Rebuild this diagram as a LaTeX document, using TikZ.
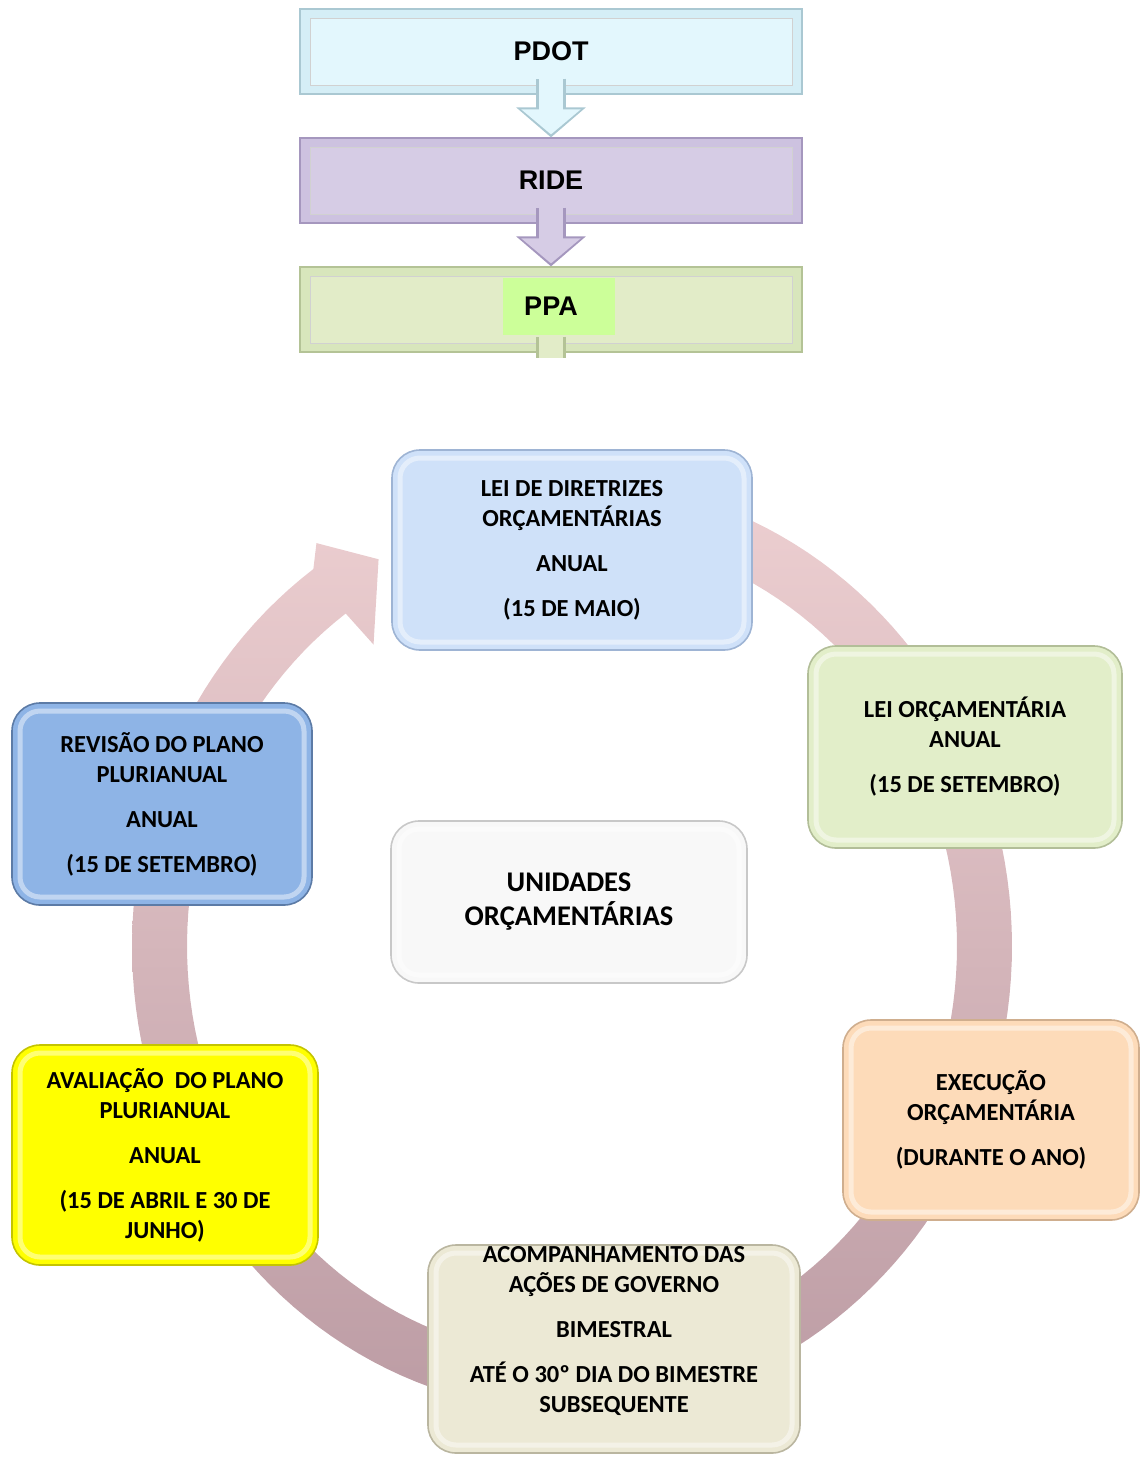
\documentclass[tikz,border=0pt]{standalone}
\usepackage{fontspec}
\setmainfont{Carlito}
\newfontfamily\arialbf{Liberation Sans}
\usetikzlibrary{arrows.meta}

\definecolor{pdotface}{RGB}{227,247,253}
\definecolor{pdotframe}{RGB}{213,238,246}
\definecolor{pdotedge}{RGB}{170,200,210}
\definecolor{rideface}{RGB}{214,204,229}
\definecolor{rideframe}{RGB}{205,194,224}
\definecolor{rideedge}{RGB}{165,151,190}
\definecolor{ppaface}{RGB}{226,236,200}
\definecolor{ppaframe}{RGB}{216,230,188}
\definecolor{ppaedge}{RGB}{180,195,150}
\definecolor{ppamark}{RGB}{204,255,153}
\definecolor{ringtop}{RGB}{236,206,208}
\definecolor{ringbot}{RGB}{188,156,164}
\definecolor{ldoface}{RGB}{207,225,249}
\definecolor{ldoedge}{RGB}{158,180,212}
\definecolor{loaface}{RGB}{226,238,201}
\definecolor{loaedge}{RGB}{178,190,152}
\definecolor{execface}{RGB}{253,219,185}
\definecolor{execedge}{RGB}{207,174,142}
\definecolor{acface}{RGB}{236,233,213}
\definecolor{acedge}{RGB}{186,182,160}
\definecolor{avalface}{RGB}{255,255,0}
\definecolor{avaledge}{RGB}{196,196,0}
\definecolor{revface}{RGB}{142,180,230}
\definecolor{revedge}{RGB}{92,123,166}
\definecolor{unidface}{RGB}{248,248,248}
\definecolor{unidedge}{RGB}{200,200,200}

\newcommand\toplbl{\arialbf\bfseries\fontsize{13.5}{16}\selectfont}
\newcommand\boxlbl{\bfseries\fontsize{12.25}{15}\selectfont}

\begin{document}
\begin{tikzpicture}[x=0.5pt,y=-0.5pt,node distance={64.5pt}]
	\tikzstyle{tb}=[rectangle, minimum width=251pt, minimum height=42.5pt, inner sep=0pt, line width=0.6pt, font=\toplbl]
	\tikzstyle{face}=[path picture={\filldraw[fill=#1, draw=black!18, line width=0.4pt] ([shift={(5pt,-4.5pt)}]path picture bounding box.north west) rectangle ([shift={(-5pt,4.5pt)}]path picture bounding box.south east);}]
	\tikzstyle{cb}=[rectangle, rounded corners=14pt, line width=0.8pt, align=center, inner sep=0pt, font=\boxlbl, path picture={\draw[white, opacity=0.45, line width=2.5pt, rounded corners=10pt] ([shift={(4pt,-4pt)}]path picture bounding box.north west) rectangle ([shift={(-4pt,4pt)}]path picture bounding box.south east);}]

	\useasboundingbox (0,0) rectangle (1140,1457);

	\node[tb, fill=pdotframe, draw=pdotedge, face=pdotface] (pdot) at (551,51.5) {PDOT};
	\node[tb, fill=rideframe, draw=rideedge, face=rideface] (ride) [below of=pdot] {RIDE};
	\node[tb, fill=ppaframe, draw=ppaedge, face=ppaface] (ppa) [below of=ride] {};
	\node[fill=ppamark, minimum width=56pt, minimum height=28.5pt, inner sep=0pt] (ppamk) at (559,306.5) {};
	\node[font=\toplbl] (ppalbl) at ([yshift=1.5pt]ppa.center) {PPA};
	\coordinate (ppaout) at (551,358);

	\foreach \from/\to/\e/\f in {pdot/ride/pdotedge/pdotface,ride/ppa/rideedge/rideface}
	{
		\draw[\e, line width=15pt, -{Triangle[width=34pt,length=15pt]}] ([yshift=8pt]\from.south) -- (\to.north);
		\draw[\f, line width=12pt, -{Triangle[width=29pt,length=12.5pt]}, shorten >=1.5pt] ([yshift=8pt]\from.south) -- (\to.north);
	}
	\draw[ppaedge, line width=15pt] ([yshift=8pt]ppa.south) -- (ppaout);
	\draw[ppaface, line width=12pt] ([yshift=8pt]ppa.south) -- (ppaout);

	\path[top color=ringtop, bottom color=ringbot]
		plot[domain=-72:234, samples=150] ({572+440*cos(\x)},{946+466*sin(\x)})
		-- ({572+457*cos(236)},{946+486*sin(236)})
		-- ({572+412*cos(242)},{946+438*sin(242)})
		-- ({572+346*cos(235)},{946+368*sin(235)})
		-- plot[domain=234:-72, samples=150] ({572+385*cos(\x)},{946+411*sin(\x)}) -- cycle;

	\node[cb, fill=ldoface, draw=ldoedge, minimum width=180pt, minimum height=100pt] (ldo) at (572,550) {LEI DE DIRETRIZES\\ ORÇAMENTÁRIAS\\[7.5pt] ANUAL\\[7.5pt] (15 DE MAIO)};
	\node[cb, fill=loaface, draw=loaedge, minimum width=157pt, minimum height=101pt] (loa) at (965,747) {LEI ORÇAMENTÁRIA\\ ANUAL\\[7.5pt] (15 DE SETEMBRO)};
	\node[cb, fill=execface, draw=execedge, minimum width=148pt, minimum height=100pt] (exec) at (991,1120) {EXECUÇÃO\\ ORÇAMENTÁRIA\\[7.5pt] (DURANTE O ANO)};
	\node[cb, fill=acface, draw=acedge, minimum width=186pt, minimum height=104pt] (acomp) at (614,1349) {};
	\node[align=center, font=\boxlbl] (acomptxt) at (614,1331) {ACOMPANHAMENTO DAS\\ AÇÕES DE GOVERNO\\[7.5pt] BIMESTRAL\\[7.5pt] ATÉ O 30º DIA DO BIMESTRE\\ SUBSEQUENTE};
	\node[cb, fill=avalface, draw=avaledge, minimum width=153pt, minimum height=110pt] (aval) at (165,1155) {AVALIAÇÃO\ \ DO PLANO\\ PLURIANUAL\\[7.5pt] ANUAL\\[7.5pt] (15 DE ABRIL E 30 DE\\ JUNHO)};
	\node[cb, fill=revface, draw=revedge, minimum width=150pt, minimum height=101pt] (rev) at (162,804) {REVISÃO DO PLANO\\ PLURIANUAL\\[7.5pt] ANUAL\\[7.5pt] (15 DE SETEMBRO)};
	\node[cb, fill=unidface, draw=unidedge, minimum width=178pt, minimum height=81pt, font=\bfseries\fontsize{14.25}{17}\selectfont] (unid) at (569,902) {UNIDADES\\ ORÇAMENTÁRIAS};
\end{tikzpicture}
\end{document}
